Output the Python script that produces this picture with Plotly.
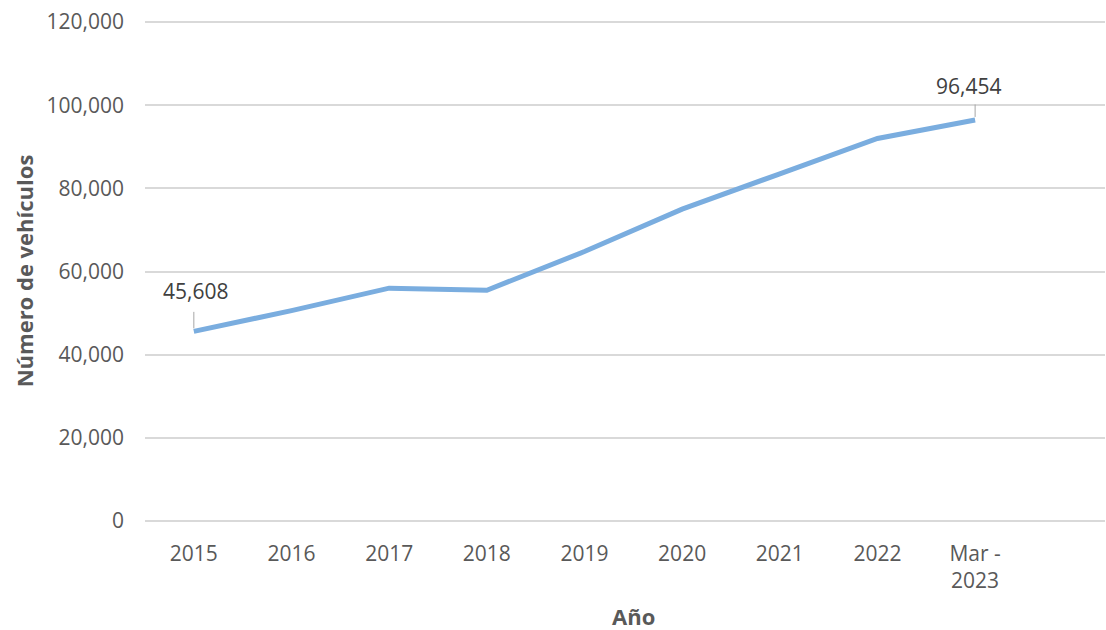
import plotly.graph_objects as go

categories = ["2015", "2016", "2017", "2018", "2019", "2020", "2021", "2022", "Mar -<br>2023"]
vehicles = [45608, 50600, 56000, 55500, 64800, 75000, 83500, 92000, 96454]
y_ticks = [0, 20000, 40000, 60000, 80000, 100000, 120000]
x_title = "Año"
y_title = "Número de vehículos"

font_family = "Open Sans, Noto Sans, Liberation Sans, sans-serif"
grey = "#595959"
line_color = "#7AADDF"

fig = go.Figure()
fig.add_trace(go.Scatter(
    x=list(range(len(categories))), y=vehicles, mode="lines",
    line=dict(color=line_color, width=5), hoverinfo="skip", showlegend=False,
))

# data labels (first and last point) with thin leader lines
label_points = [(0, 2), (len(vehicles) - 1, -7)]
label_rise = [40, 34]
leader_len = [21, 17]
for (idx, dx), rise, ll in zip(label_points, label_rise, leader_len):
    fig.add_annotation(
        x=idx, y=vehicles[idx], text=f"{vehicles[idx]:,}",
        showarrow=False, xshift=dx, yshift=rise,
        font=dict(family=font_family, size=21, color="#404040"),
    )
    fig.add_annotation(
        x=idx, y=vehicles[idx], text="",
        showarrow=True, arrowhead=0, arrowwidth=1, arrowcolor="#A6A6A6",
        ax=0, ay=-ll, standoff=3,
    )

# x-axis title placed below the tick labels
fig.add_annotation(
    xref="paper", yref="paper", x=0.5, y=0, xshift=8, yshift=-95,
    text=f"<b>{x_title}</b>", showarrow=False, yanchor="middle",
    font=dict(family=font_family, size=22, color=grey),
)

fig.update_layout(
    width=1106, height=630,
    margin=dict(l=145, r=1, t=21, b=109),
    paper_bgcolor="white", plot_bgcolor="white",
    font=dict(family=font_family, color=grey, size=21),
)
fig.update_xaxes(
    tickmode="array", tickvals=list(range(len(categories))), ticktext=categories,
    range=[-0.5, 9.33], showgrid=False, zeroline=False, showline=False,
    ticks="", ticklabelstandoff=18, automargin=False,
    tickfont=dict(size=21, color=grey),
)
fig.update_yaxes(
    range=[0, 120250], tickvals=y_ticks, tickformat=",",
    showgrid=True, gridcolor="#D9D9D9", gridwidth=1.5,
    zeroline=True, zerolinecolor="#D9D9D9", zerolinewidth=1.5,
    showline=False, ticks="", ticklabelstandoff=20, automargin=False,
    tickfont=dict(size=21, color=grey),
    title=dict(text=f"<b>{y_title}</b>", font=dict(size=22, color=grey), standoff=6),
)

fig.write_html(
    "out.html",
    config={"displayModeBar": False},
    post_script="document.body.style.margin='0';document.body.style.overflow='hidden';",
)
